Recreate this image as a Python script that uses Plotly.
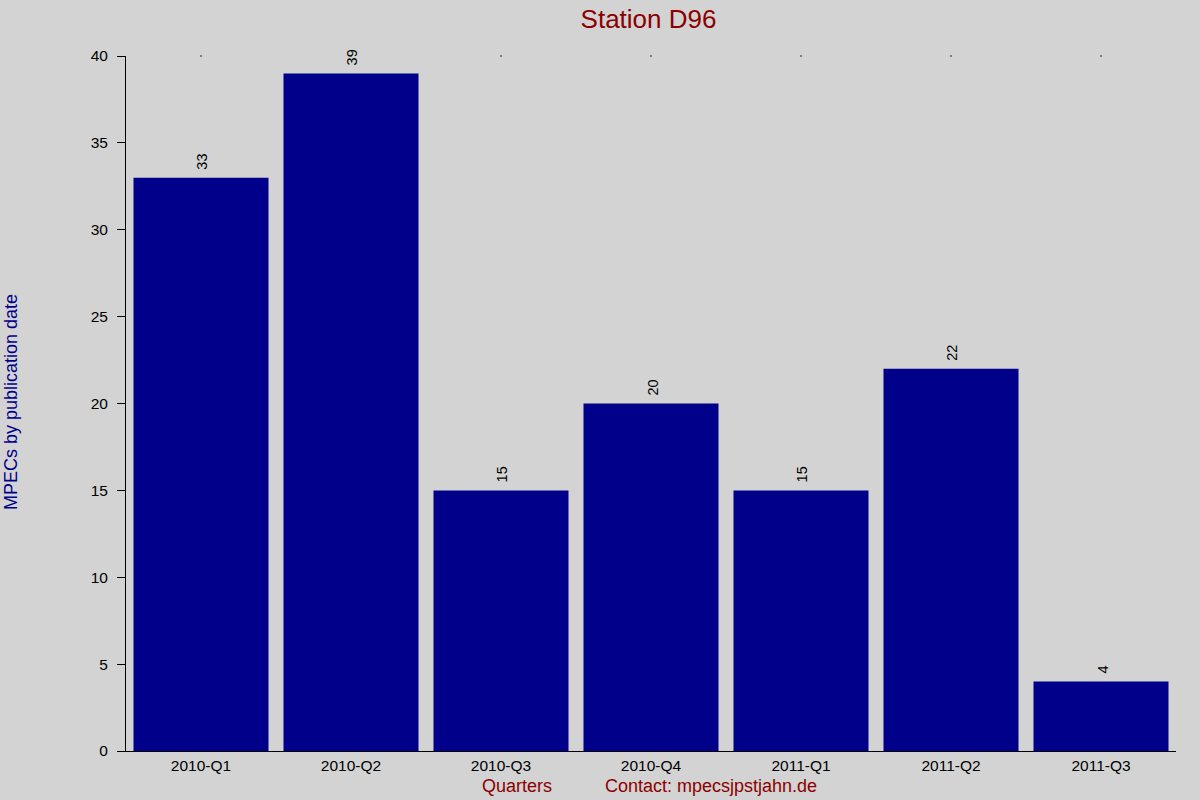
import plotly.graph_objects as go

quarters = ["2010-Q1", "2010-Q2", "2010-Q3", "2010-Q4", "2011-Q1", "2011-Q2", "2011-Q3"]
mpecs = [33, 39, 15, 20, 15, 22, 4]
y_ticks = [0, 5, 10, 15, 20, 25, 30, 35, 40]

FONT = "Liberation Sans, Arial"
L, R, T, B = 126, 24, 56, 49
PW, PH = 1200 - L - R, 800 - T - B

fig = go.Figure()
fig.add_trace(go.Bar(
    x=quarters, y=mpecs,
    marker=dict(color="#00008b", line=dict(width=0)),
    width=0.9,
    hoverinfo="x+y",
))
# tiny marks on the top edge at each category
fig.add_trace(go.Scatter(
    x=quarters, y=[max(y_ticks)] * len(quarters),
    mode="markers", marker=dict(size=1.5, color="#000000"),
    cliponaxis=False, hoverinfo="skip",
))

for q, v in zip(quarters, mpecs):
    fig.add_annotation(x=q, y=v, text=str(v), textangle=-90, showarrow=False,
                       xanchor="center", yanchor="bottom", yshift=6, xshift=1,
                       font=dict(family=FONT, size=14.5, color="#000000"))

fig.update_layout(
    width=1200, height=800,
    paper_bgcolor="#d3d3d3", plot_bgcolor="#d3d3d3",
    margin=dict(l=L, r=R, t=T, b=B, pad=0),
    font=dict(family=FONT, size=15.5, color="#000000"),
    title=dict(text="Station D96", x=648.5 / 1200, xanchor="center",
               y=1 - 19 / 800, yanchor="middle",
               font=dict(size=26, color="#8b0000")),
    showlegend=False,
)
fig.update_xaxes(
    range=[-0.5, 6.5], showline=True, linecolor="#000000", linewidth=1,
    ticks="", showgrid=False, zeroline=False,
    tickfont=dict(size=15.5, color="#000000"),
)
fig.update_yaxes(
    range=[0, 40], tickvals=y_ticks, showline=True, linecolor="#000000", linewidth=1,
    ticks="outside", ticklen=8, tickcolor="#000000", ticklabelstandoff=6,
    showgrid=False, zeroline=False,
    tickfont=dict(size=15.5, color="#000000"),
)
fig.add_annotation(text="MPECs by publication date", xref="paper", yref="paper",
                   x=-(L - 11) / PW, y=(751 - 402) / PH, textangle=-90, showarrow=False,
                   xanchor="center", yanchor="middle",
                   font=dict(size=18, color="#00008b"))
fig.add_annotation(text="Quarters", xref="paper", yref="paper",
                   x=(517 - L) / PW, y=-(786 - 751) / PH, showarrow=False,
                   xanchor="center", yanchor="middle",
                   font=dict(size=18, color="#8b0000"))
fig.add_annotation(text="Contact: mpecsjpstjahn.de", xref="paper", yref="paper",
                   x=(603 - L) / PW, y=-(786 - 751) / PH, showarrow=False,
                   xanchor="left", yanchor="middle",
                   font=dict(size=18, color="#8b0000"))

fig.write_html("out.html", config={"displayModeBar": False},
               post_script="document.body.style.margin='0';")
